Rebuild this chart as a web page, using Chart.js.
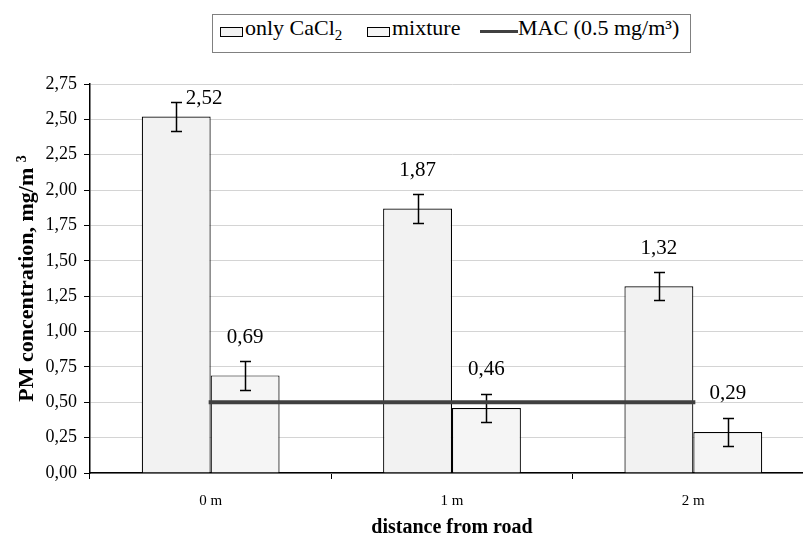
<!DOCTYPE html>
<html>
<head>
<meta charset="utf-8">
<script src="https://cdn.jsdelivr.net/npm/chart.js@4/dist/chart.umd.min.js"></script>
<style>
  html, body { margin: 0; padding: 0; background: #fff; overflow: hidden; width: 803px; height: 545px; }
  #wrap { position: absolute; left: 0; top: 0; width: 830px; height: 545px; }
  #legend { position: absolute; left: 212px; top: 14px; width: 477px; height: 37px; border: 1px solid #808080; background: #fff;
            font-family: 'Liberation Serif', serif; font-size: 22px; color: #000; }
  #legend .sw { position: absolute; top: 12px; width: 21px; height: 8px; border: 1px solid #000; background: #f2f2f2; }
  #legend .ln { position: absolute; top: 15px; width: 38px; height: 3px; background: #404040; }
  #legend .tx { position: absolute; top: 2px; line-height: 22px; white-space: nowrap; }
  #legend sub { font-size: 15px; vertical-align: -5px; line-height: 0; }
</style>
</head>
<body>
<div id="wrap">
  <canvas id="chart" width="830" height="545"></canvas>
  <div id="legend">
    <span class="sw" style="left:7px"></span><span class="tx" style="left:32px">only CaCl<sub>2</sub></span>
    <span class="sw" style="left:154px;background:#f5f5f5"></span><span class="tx" style="left:179px">mixture</span>
    <span class="ln" style="left:267px"></span><span class="tx" style="left:305px">MAC (0.5 mg/m³)</span>
  </div>
</div>
<script>
// ─── Data ─────────────────────────────────────────────────

const categories = ['0 m', '1 m', '2 m'];
const onlyCaCl2 = [2.52, 1.87, 1.32];
const onlyCaCl2Err = [0.10, 0.10, 0.10];
const mixture = [0.69, 0.46, 0.29];
const mixtureErr = [0.10, 0.10, 0.10];
const macLimit = [0.5, 0.5, 0.5];
const yTicks = [0, 0.25, 0.5, 0.75, 1, 1.25, 1.5, 1.75, 2, 2.25, 2.5, 2.75];

const SERIF = "'Liberation Serif', serif";
const fmt = v => v.toFixed(2).replace('.', ',');

// ─── Plugins ──────────────────────────────────────────────

const errorBars = {
  id: 'errorBars',
  afterDatasetDraw(chart, args) {
    const ds = chart.data.datasets[args.index];
    if (!ds.errors) return;
    const ctx = chart.ctx, y = chart.scales.y;
    ctx.save();
    ctx.strokeStyle = '#000';
    ctx.lineWidth = 1.5;
    args.meta.data.forEach((bar, j) => {
      const v = ds.data[j], e = ds.errors[j];
      const top = Math.round(y.getPixelForValue(v + e)) + 0.5;
      const bot = Math.round(y.getPixelForValue(v - e)) + 0.5;
      const x = Math.round(bar.x) + 0.5;
      ctx.beginPath();
      ctx.moveTo(x, top); ctx.lineTo(x, bot);
      ctx.moveTo(x - 5.5, top); ctx.lineTo(x + 5.5, top);
      ctx.moveTo(x - 5.5, bot); ctx.lineTo(x + 5.5, bot);
      ctx.stroke();
    });
    ctx.restore();
  }
};

const valueLabels = {
  id: 'valueLabels',
  afterDraw(chart) {
    const ctx = chart.ctx, y = chart.scales.y, area = chart.chartArea;
    ctx.save();
    ctx.font = '21px ' + SERIF;
    ctx.fillStyle = '#000';
    ctx.textAlign = 'center';
    ctx.textBaseline = 'middle';
    chart.data.datasets.forEach((ds, i) => {
      if (!ds.errors) return;
      chart.getDatasetMeta(i).data.forEach((bar, j) => {
        const errTop = y.getPixelForValue(ds.data[j] + ds.errors[j]);
        let lx = bar.x, ly = errTop - 24;
        if (ly - 10 < area.top) { lx = bar.x + 28; ly = errTop - 4; }
        ctx.fillText(fmt(ds.data[j]), lx, ly);
      });
    });
    ctx.restore();
  }
};

const yTitle = {
  id: 'yTitle',
  afterDraw(chart) {
    const ctx = chart.ctx;
    const main = 'PM concentration, mg/m', sup = '3';
    ctx.save();
    ctx.fillStyle = '#000';
    ctx.textBaseline = 'alphabetic';
    ctx.font = 'bold 22px ' + SERIF;
    const w1 = ctx.measureText(main + ' ').width;
    ctx.font = 'bold 14px ' + SERIF;
    const w2 = ctx.measureText(sup).width;
    const cy = (chart.chartArea.top + chart.chartArea.bottom) / 2;
    ctx.translate(33, cy);
    ctx.rotate(-Math.PI / 2);
    const x0 = -(w1 + w2) / 2;
    ctx.font = 'bold 22px ' + SERIF;
    ctx.fillText(main, x0, 0);
    ctx.font = 'bold 14px ' + SERIF;
    ctx.fillText(sup, x0 + w1, -7);
    ctx.restore();
  }
};

// ─── Chart ────────────────────────────────────────────────

new Chart(document.getElementById('chart').getContext('2d'), {
  type: 'bar',
  data: {
    labels: categories,
    datasets: [
      { label: 'only CaCl2', data: onlyCaCl2, errors: onlyCaCl2Err, backgroundColor: '#f2f2f2',
        borderColor: '#000', borderWidth: 1.2, order: 1 },
      { label: 'mixture', data: mixture, errors: mixtureErr, backgroundColor: '#f5f5f5',
        borderColor: '#000', borderWidth: 1.2, order: 1 },
      { type: 'line', label: 'MAC (0.5 mg/m³)', data: macLimit, borderColor: '#404040', borderWidth: 4,
        borderCapStyle: 'square', pointRadius: 0, fill: false, order: 0 }
    ]
  },
  options: {
    responsive: false,
    animation: false,
    devicePixelRatio: 1,
    categoryPercentage: 0.571,
    barPercentage: 1,
    layout: { padding: { left: 0, right: 16, top: 84, bottom: 0 } },
    plugins: { legend: { display: false }, tooltip: { enabled: false } },
    scales: {
      x: {
        afterFit: s => { s.height = 72; },
        grid: { display: true, drawOnChartArea: false, tickColor: '#000', tickLength: 6, offset: true },
        border: { color: '#000', width: 1.5 },
        ticks: { color: '#000', font: { family: SERIF, size: 15 }, padding: 13 },
        title: { display: true, text: 'distance from road', color: '#000',
                 font: { family: SERIF, size: 20, weight: 'bold' }, padding: { top: 0, bottom: 5 } }
      },
      y: {
        min: 0, max: 2.75,
        afterFit: s => { s.width = 90; },
        afterBuildTicks: s => { s.ticks = yTicks.map(v => ({ value: v })); },
        grid: { color: '#d4d4d4', lineWidth: 1, tickColor: '#000', tickLength: 6 },
        border: { color: '#000', width: 1.5 },
        ticks: { color: '#000', font: { family: SERIF, size: 18 }, padding: 7, callback: v => fmt(v) }
      }
    }
  },
  plugins: [errorBars, valueLabels, yTitle]
});
</script>
</body>
</html>
